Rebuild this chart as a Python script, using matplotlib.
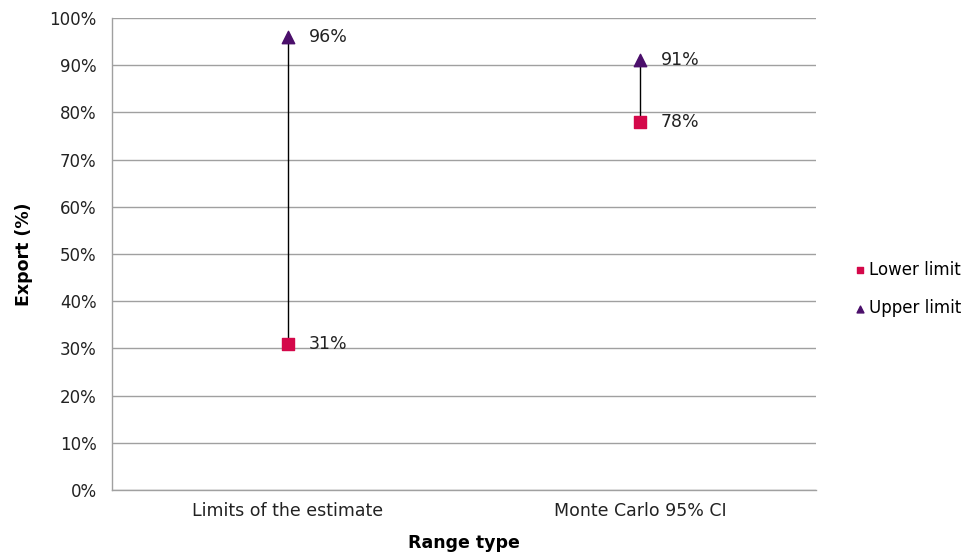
import matplotlib.pyplot as plt
from matplotlib.ticker import PercentFormatter

# Data
range_types = ["Limits of the estimate", "Monte Carlo 95% CI"]
lower_limit = [31, 78]
upper_limit = [96, 91]

plt.rcParams['font.family'] = ['DejaVu Sans']

fig = plt.figure(figsize=(9.79, 5.57), dpi=100)
ax = fig.add_axes([112 / 979, 1 - 490 / 557, (816 - 112) / 979, (490 - 18) / 557])

x = list(range(len(range_types)))

# connecting lines
ax.vlines(x, lower_limit, upper_limit, color="black", linewidth=1, zorder=2)

ax.scatter(x, lower_limit, marker="s", s=75, color="#d4084a", zorder=3, label="Lower limit")
ax.scatter(x, upper_limit, marker="^", s=80, color="#4b0f6b", zorder=3, label="Upper limit")

# value labels
for xi, lo, hi in zip(x, lower_limit, upper_limit):
    ax.annotate(f"{lo}%", (xi, lo), xytext=(15, 0), textcoords="offset points",
                va="center", ha="left", fontsize=12.5, color="#222222")
    ax.annotate(f"{hi}%", (xi, hi), xytext=(15, 0), textcoords="offset points",
                va="center", ha="left", fontsize=12.5, color="#222222")

ax.set_xlim(-0.5, 1.5)
ax.set_ylim(0, 100)
ax.set_yticks(range(0, 101, 10))
ax.yaxis.set_major_formatter(PercentFormatter(decimals=0))
ax.set_xticks(x)
ax.set_xticklabels(range_types)
ax.tick_params(axis="y", length=0, labelsize=12, colors="#222222", pad=11)
ax.tick_params(axis="x", length=0, labelsize=12.5, colors="#222222", pad=9)

# Grid and spines
ax.grid(axis="y", color="#a0a0a0", linewidth=1)
ax.set_axisbelow(True)
for side in ["top", "right"]:
    ax.spines[side].set_visible(False)
for side in ["left", "bottom"]:
    ax.spines[side].set_color("#a0a0a0")
    ax.spines[side].set_linewidth(1)

ax.set_xlabel("Range type", fontsize=12.5, fontweight="bold", labelpad=10)
ax.set_ylabel("Export (%)", fontsize=12.5, fontweight="bold", labelpad=12)

ax.legend(loc="center left", bbox_to_anchor=(1.052, 0.426), frameon=False,
          fontsize=12, handletextpad=0.1, markerscale=0.55, handlelength=0.9,
          labelspacing=1.25, borderpad=0, borderaxespad=0)

fig.savefig("out.png", dpi=100)
